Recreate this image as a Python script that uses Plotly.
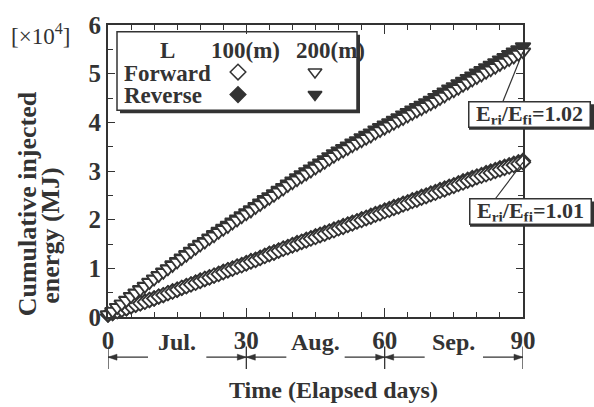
import plotly.graph_objects as go

# ---------------- data (x10^4 MJ) ----------------
days = list(range(0, 91))

fwd_100 = [0.05, 0.08, 0.12, 0.15, 0.18, 0.22, 0.25, 0.28, 0.31, 0.35,
           0.38, 0.42, 0.45, 0.49, 0.52, 0.56, 0.60, 0.63, 0.67, 0.70,
           0.74, 0.78, 0.81, 0.85, 0.88, 0.92, 0.96, 0.99, 1.03, 1.06,
           1.10, 1.14, 1.17, 1.21, 1.25, 1.29, 1.32, 1.36, 1.40, 1.43,
           1.47, 1.50, 1.54, 1.57, 1.61, 1.64, 1.68, 1.71, 1.75, 1.78,
           1.82, 1.85, 1.89, 1.92, 1.96, 1.99, 2.03, 2.06, 2.10, 2.13,
           2.17, 2.20, 2.24, 2.27, 2.31, 2.34, 2.38, 2.41, 2.45, 2.48,
           2.52, 2.55, 2.59, 2.62, 2.66, 2.69, 2.73, 2.76, 2.80, 2.83,
           2.87, 2.90, 2.93, 2.96, 3.00, 3.03, 3.06, 3.09, 3.12, 3.15,
           3.18]

rev_100 = [0.05, 0.08, 0.12, 0.15, 0.18, 0.22, 0.25, 0.28, 0.32, 0.35,
           0.38, 0.42, 0.45, 0.49, 0.53, 0.56, 0.60, 0.64, 0.67, 0.71,
           0.75, 0.78, 0.82, 0.85, 0.89, 0.93, 0.96, 1.00, 1.04, 1.07,
           1.11, 1.15, 1.18, 1.22, 1.26, 1.30, 1.33, 1.37, 1.41, 1.44,
           1.48, 1.52, 1.55, 1.59, 1.62, 1.66, 1.69, 1.73, 1.76, 1.80,
           1.83, 1.87, 1.90, 1.94, 1.97, 2.01, 2.04, 2.08, 2.12, 2.15,
           2.19, 2.22, 2.26, 2.29, 2.33, 2.36, 2.40, 2.43, 2.47, 2.50,
           2.54, 2.57, 2.61, 2.64, 2.68, 2.71, 2.75, 2.79, 2.82, 2.86,
           2.89, 2.92, 2.96, 2.99, 3.02, 3.06, 3.09, 3.12, 3.15, 3.18,
           3.21]

fwd_200 = [0.05, 0.12, 0.20, 0.27, 0.34, 0.42, 0.49, 0.56, 0.63, 0.71,
           0.78, 0.85, 0.92, 0.99, 1.06, 1.13, 1.20, 1.27, 1.34, 1.41,
           1.48, 1.54, 1.61, 1.67, 1.74, 1.80, 1.86, 1.93, 1.99, 2.06,
           2.12, 2.18, 2.25, 2.31, 2.38, 2.44, 2.50, 2.57, 2.63, 2.70,
           2.76, 2.82, 2.88, 2.94, 3.00, 3.06, 3.12, 3.18, 3.24, 3.30,
           3.36, 3.41, 3.46, 3.52, 3.57, 3.62, 3.67, 3.72, 3.78, 3.83,
           3.88, 3.93, 3.98, 4.03, 4.08, 4.13, 4.18, 4.23, 4.28, 4.33,
           4.38, 4.43, 4.49, 4.54, 4.60, 4.65, 4.70, 4.76, 4.81, 4.87,
           4.92, 4.97, 5.03, 5.08, 5.13, 5.19, 5.24, 5.29, 5.34, 5.40,
           5.45]

rev_200 = [0.05, 0.12, 0.20, 0.27, 0.35, 0.43, 0.50, 0.57, 0.64, 0.72,
           0.79, 0.86, 0.93, 1.00, 1.08, 1.15, 1.22, 1.29, 1.36, 1.43,
           1.50, 1.56, 1.63, 1.70, 1.77, 1.83, 1.89, 1.96, 2.02, 2.09,
           2.15, 2.21, 2.28, 2.35, 2.42, 2.48, 2.54, 2.61, 2.67, 2.74,
           2.80, 2.87, 2.93, 2.99, 3.05, 3.11, 3.17, 3.24, 3.30, 3.36,
           3.42, 3.47, 3.52, 3.58, 3.63, 3.69, 3.74, 3.79, 3.85, 3.90,
           3.95, 4.00, 4.05, 4.10, 4.16, 4.21, 4.26, 4.31, 4.36, 4.41,
           4.46, 4.52, 4.58, 4.63, 4.69, 4.74, 4.80, 4.85, 4.91, 4.96,
           5.02, 5.07, 5.13, 5.18, 5.23, 5.29, 5.34, 5.40, 5.45, 5.50,
           5.56]

x_ticks = [0, 30, 60, 90]
y_ticks = [0, 1, 2, 3, 4, 5, 6]
month_labels = ["Jul.", "Aug.", "Sep."]
month_bounds = [0, 30, 60, 90]
ratio_labels = ["E<sub>ri</sub>/E<sub>fi</sub>=1.02", "E<sub>ri</sub>/E<sub>fi</sub>=1.01"]

# ---------------- layout geometry ----------------
W, H = 594, 407
ML, MR, MT, MB = 108, 71, 19, 90
PW, PH = W - ML - MR, H - MT - MB

def px(xp):
    return (xp - ML) / PW

def py(yp):
    return (H - MB - yp) / PH

INK = "#333333"
FONT = "Liberation Serif"

fig = go.Figure()

def add_series(y, symbol, fill, size):
    fig.add_trace(go.Scatter(
        x=days, y=y, mode="markers", cliponaxis=False, showlegend=False,
        marker=dict(symbol=symbol, size=size, color=fill,
                    line=dict(color=INK, width=1.8))))

add_series(rev_100, "diamond", INK, 11)
add_series(fwd_100, "diamond", "white", 11)
add_series(rev_200, "triangle-down", INK, 13)
add_series(fwd_200, "triangle-down", "white", 13)

# legend glyphs (overlay axes in pixel units)
leg_x = [238, 315]
leg_y = [67, 90]
for (gx, gy, sym, fill) in [(leg_x[0], leg_y[0], "diamond", "white"),
                            (leg_x[1], leg_y[0], "triangle-down", "white"),
                            (leg_x[0], leg_y[1], "diamond", INK),
                            (leg_x[1], leg_y[1], "triangle-down", INK)]:
    fig.add_trace(go.Scatter(x=[gx], y=[gy], xaxis="x2", yaxis="y2", mode="markers",
                             cliponaxis=False, showlegend=False,
                             marker=dict(symbol=sym, size=12, color=fill,
                                         line=dict(color=INK, width=1.5))))

shapes = []
annotations = []

def txt(s, xp, yp, size=22, bold=True, xanchor="center", angle=0, **kw):
    annotations.append(dict(
        text=s, x=px(xp), y=py(yp), xref="paper", yref="paper", showarrow=False,
        xanchor=xanchor, yanchor="middle", textangle=angle,
        font=dict(family=FONT, size=size, color=INK, weight="bold" if bold else "normal"), **kw))

# legend box with shadow (below traces so glyphs stay visible)
shapes.append(dict(type="rect", xref="paper", yref="paper", x0=px(120), x1=px(360), y0=py(109), y1=py(29),
                   fillcolor=INK, line=dict(width=0), layer="below"))
shapes.append(dict(type="rect", xref="paper", yref="paper", x0=px(117), x1=px(357), y0=py(106), y1=py(26),
                   fillcolor="white", line=dict(color=INK, width=1.5), layer="below"))
txt("L", 167, 45, size=23)
txt("100(m)", 245, 45, size=23)
txt("200(m)", 330, 45, size=23)
txt("Forward", 122, 68, size=23, xanchor="left")
txt("Reverse", 122, 91, size=23, xanchor="left")

# ratio boxes with leader lines
box_centers = [(529, 110), (530, 209)]
heads = [(90, fwd_200[-1]), (90, fwd_100[-1])]
tails = [(-21, -52), (-28, -37)]
for lab, (cx, cy), (hx, hy), (tx, ty) in zip(ratio_labels, box_centers, heads, tails):
    shapes.append(dict(type="line", xref="x", yref="y", xsizemode="pixel", ysizemode="pixel",
                       xanchor=hx, yanchor=hy, x0=0, y0=0, x1=tx, y1=ty,
                       line=dict(color=INK, width=1.2), layer="above"))
    shapes.append(dict(type="rect", xref="paper", yref="paper",
                       x0=px(cx - 60), x1=px(cx + 66), y0=py(cy + 16), y1=py(cy - 10),
                       fillcolor=INK, line=dict(width=0), layer="above"))
    txt(lab, cx, cy, size=22, width=116, height=20, bgcolor="white",
        bordercolor=INK, borderwidth=1.5, borderpad=2)

# month brackets with arrows
yb = py(358)
for b in month_bounds:
    shapes.append(dict(type="line", xref="x", yref="paper", x0=b, x1=b, y0=py(347), y1=py(370),
                       line=dict(color=INK, width=1.3)))
for i, lab in enumerate(month_labels):
    mid = (month_bounds[i] + month_bounds[i + 1]) / 2
    annotations.append(dict(text=lab, x=mid, y=yb, xref="x", yref="paper", showarrow=False,
                            font=dict(family=FONT, size=24, color=INK, weight="bold")))
    for head, sgn in [(month_bounds[i], 1), (month_bounds[i + 1], -1)]:
        shapes.append(dict(type="line", xref="x", yref="paper", xsizemode="pixel", ysizemode="pixel",
                           xanchor=head, yanchor=yb, x0=0, x1=sgn * 40, y0=0, y1=0,
                           line=dict(color=INK, width=1.2)))
        shapes.append(dict(type="path", xref="x", yref="paper", xsizemode="pixel", ysizemode="pixel",
                           xanchor=head, yanchor=yb,
                           path=f"M 0,0 L {sgn * 9},3 L {sgn * 9},-3 Z",
                           fillcolor=INK, line=dict(color=INK, width=0.5)))

# axis titles and multiplier
txt("Time (Elapsed days)", 333, 392, size=24)
txt("Cumulative injected", 27, 202, size=26, angle=-90)
txt("energy (MJ)", 51, 234, size=26, angle=-90)
txt("[×10<sup>4</sup>]", 40, 29, size=23, bold=False)

axis_common = dict(showline=True, linecolor=INK, linewidth=2, mirror="allticks",
                   ticks="inside", tickcolor=INK, tickwidth=1.3, showgrid=False, zeroline=False,
                   tickfont=dict(family=FONT, size=25, color=INK, weight="bold"))

fig.update_layout(
    width=W, height=H, autosize=False,
    margin=dict(l=ML, r=MR, t=MT, b=MB),
    paper_bgcolor="white", plot_bgcolor="white",
    xaxis=dict(range=[0, 90], tickvals=x_ticks, ticklen=9, ticklabelstandoff=0,
               minor=dict(ticks="inside", dtick=5, tick0=0, ticklen=5, tickcolor=INK, tickwidth=1.2, showgrid=False),
               **axis_common),
    yaxis=dict(range=[0, 6], tickvals=y_ticks, ticklen=7,
               minor=dict(ticks="inside", dtick=0.5, tick0=0, ticklen=5, tickcolor=INK, tickwidth=1.2, showgrid=False),
               **axis_common),
    xaxis2=dict(range=[ML, ML + PW], overlaying="x", visible=False, anchor="y2"),
    yaxis2=dict(range=[H - MB, MT], overlaying="y", visible=False, anchor="x2"),
    shapes=shapes,
    annotations=annotations,
)

fig.write_html("out.html", config={"displayModeBar": False},
               post_script="document.body.style.margin='0';document.body.style.overflow='hidden';")
